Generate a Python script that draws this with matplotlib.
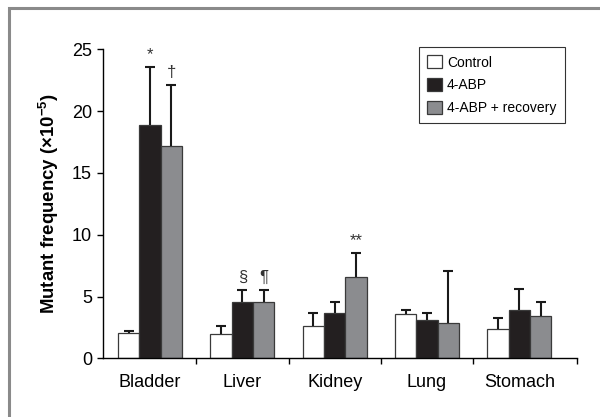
import matplotlib
matplotlib.use("Agg")
import matplotlib.pyplot as plt
import numpy as np
from matplotlib.lines import Line2D

plt.rcParams['font.family'] = ['Liberation Sans', 'DejaVu Sans']
plt.rcParams['mathtext.fontset'] = 'custom'
plt.rcParams['mathtext.rm'] = 'Liberation Sans'
plt.rcParams['mathtext.bf'] = 'Liberation Sans:bold'

tissues = ["Bladder", "Liver", "Kidney", "Lung", "Stomach"]
groups = ["Control", "4-ABP", "4-ABP + recovery"]

control = [2.05, 2.0, 2.6, 3.6, 2.4]
control_err = [0.15, 0.6, 1.1, 0.3, 0.85]
abp = [18.9, 4.55, 3.65, 3.1, 3.95]
abp_err = [4.7, 1.0, 0.9, 0.6, 1.65]
recovery = [17.2, 4.6, 6.55, 2.9, 3.4]
recovery_err = [4.9, 0.95, 1.95, 4.15, 1.2]

# significance marks: (tissue index, series index, symbol)
marks = [(0, 1, "*"), (0, 2, "\u2020"), (1, 1, "\u00a7"), (1, 2, "\u00b6"), (2, 2, "**")]

colors = ["white", "#231f20", "#8b8c8f"]

fig = plt.figure(figsize=(6.0, 4.17), dpi=100)
ax = fig.add_axes([0.1725, 0.1403, 0.9617 - 0.1725, 0.8818 - 0.1403])

x = np.arange(len(tissues))
w = 0.231
series = [(control, control_err), (abp, abp_err), (recovery, recovery_err)]
for k, (vals, errs) in enumerate(series):
    pos = x + (k - 1) * w
    ax.bar(pos, vals, w, color=colors[k], edgecolor="#3a3a3a", linewidth=0.9,
           label=groups[k], zorder=2)
    eb = ax.errorbar(pos, vals, yerr=[np.zeros(len(errs)), errs], fmt="none",
                     ecolor="#1a1a1a", elinewidth=1.5, capsize=3.3, capthick=1.5, zorder=3)
    # upper error only: hide the cap sitting on the bar top
    eb[1][0].set_visible(False)

for ti, si, sym in marks:
    vals, errs = series[si]
    top = vals[ti] + errs[ti]
    ax.text(x[ti] + (si - 1) * w, top + 0.4, sym, ha="center", va="bottom",
            fontsize=12, color="#333333")

ax.set_ylim(0, 25)
ax.set_xlim(-0.505, 4.626)
ax.set_yticks([0, 5, 10, 15, 20, 25])
ax.tick_params(axis="y", labelsize=13, length=4.3, width=1, pad=4)
ax.set_xticks(x)
ax.set_xticklabels(tissues, fontsize=13)
ax.tick_params(axis="x", which="major", length=0, pad=11)
ax.set_xticks([0.5, 1.5, 2.5, 3.5, 4.626], minor=True)
ax.tick_params(axis="x", which="minor", length=4, width=1)
for s in ["top", "right"]:
    ax.spines[s].set_visible(False)
for s in ["left", "bottom"]:
    ax.spines[s].set_linewidth(1)

ax.set_ylabel("Mutant frequency (\u00d710$^{\\mathbf{-5}}$)", fontsize=13.4,
              fontweight="bold", labelpad=8)

leg = ax.legend(loc="upper left", bbox_to_anchor=(419 / 600, 1 - 47 / 417),
                bbox_transform=fig.transFigure, borderaxespad=0, fontsize=10,
                frameon=True, fancybox=False, edgecolor="black",
                handlelength=1.07, handleheight=1.07, handletextpad=0.35,
                labelspacing=0.6, borderpad=0.6)
leg.get_frame().set_linewidth(0.8)

# gray outer frame, cut at right and bottom
fig.add_artist(Line2D([8.5 / 600, 8.5 / 600, 1.0], [0.0, 1 - 7.5 / 417, 1 - 7.5 / 417],
                      transform=fig.transFigure, color="#8a8a8a", linewidth=2.2,
                      solid_joinstyle="miter"))

fig.savefig("out.png", dpi=100)
